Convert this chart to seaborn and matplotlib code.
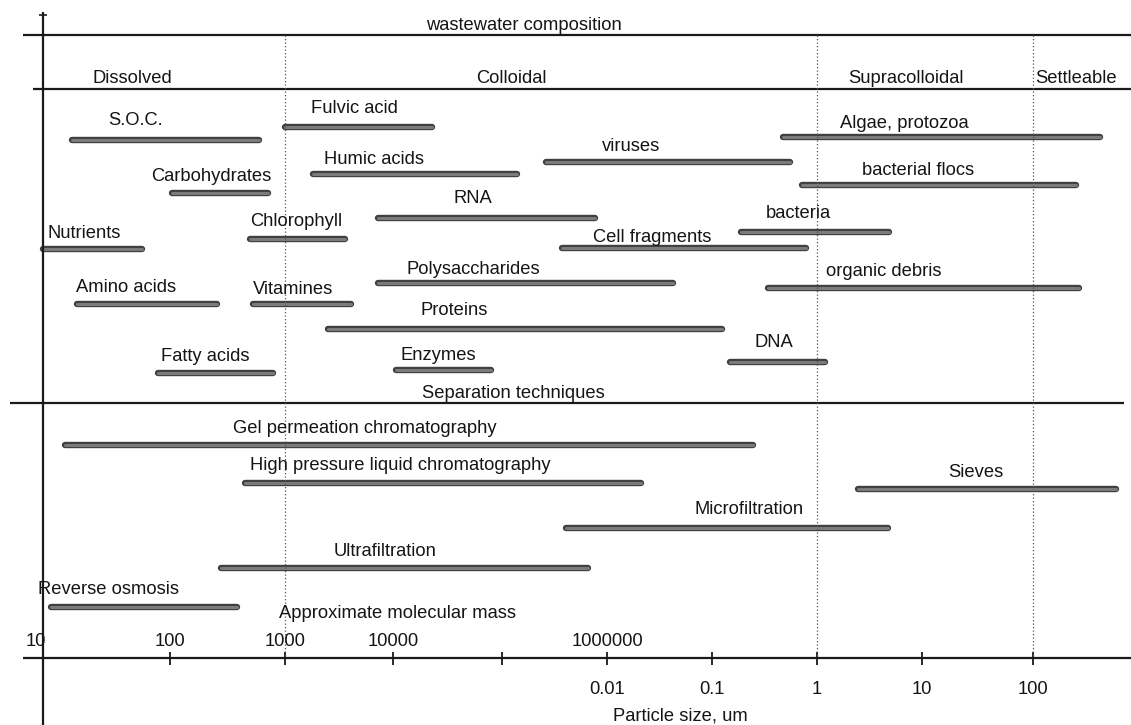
import numpy as np
import pandas as pd
import matplotlib
matplotlib.use("Agg")
import matplotlib.pyplot as plt
import matplotlib.patheffects as pe
import seaborn as sns

# ---------------------------------------------------------------- data
# Wastewater constituents: size range in micrometres
comp_names = ["S.O.C.", "Fulvic acid", "Algae, protozoa", "viruses", "Humic acids",
              "bacterial flocs", "Carbohydrates", "RNA", "bacteria", "Chlorophyll",
              "Nutrients", "Cell fragments", "Polysaccharides", "organic debris",
              "Amino acids", "Vitamines", "Proteins", "DNA", "Enzymes", "Fatty acids"]
comp_low = [1.7e-7, 1.0e-5, 0.47, 2.6e-3, 1.8e-5,
            0.72, 1.04e-6, 7.3e-5, 0.19, 5.0e-6,
            1.0e-7, 3.7e-3, 7.3e-5, 0.34,
            1.85e-7, 5.3e-6, 2.5e-5, 0.148, 1.07e-4, 8.0e-7]
comp_high = [6.0e-6, 2.3e-4, 400.0, 0.55, 1.4e-3,
             245.0, 7.1e-6, 7.7e-3, 4.85, 3.6e-5,
             6.0e-7, 0.79, 0.0425, 260.0,
             2.56e-6, 4.1e-5, 0.125, 1.19, 7.9e-4, 7.9e-6]

# Separation techniques: applicable size range in micrometres
sep_names = ["Gel permeation chromatography", "High pressure liquid chromatography",
             "Sieves", "Microfiltration", "Ultrafiltration", "Reverse osmosis"]
sep_low = [1.5e-7, 4.5e-6, 2.46, 4.1e-3, 2.8e-6, 1.16e-7]
sep_high = [0.245, 0.021, 560.0, 4.7, 6.6e-3, 3.8e-6]

# Axis tick labels
decades = [1e-7, 1e-6, 1e-5, 1e-4, 1e-3, 1e-2, 1e-1, 1.0, 10.0, 100.0]
mass_labels = ["10", "100", "1000", "10000", "", "1000000", "", "", "", ""]
size_labels = ["", "", "", "", "", "0.01", "0.1", "1", "10", "100"]

# Size classes
class_names = ["Dissolved", "Colloidal", "Supracolloidal", "Settleable"]
class_bounds = [1e-5, 1.0, 100.0]

# ---------------------------------------------------------------- layout
W, H = 1131, 725
# screen position of each decade along the size axis (the axis is not uniform)
DEC_LOG = np.log10(decades)
DEC_PX = np.array([43, 170, 285, 393, 502, 607, 712, 817, 922, 1033], float)

comp_rows = [140, 127, 137, 162, 174, 185, 193, 218, 232, 239,
             249, 248, 283, 288, 304, 304, 329, 362, 370, 373]
comp_label_off = [(-30, 20), (-4, 19), (-37, 14), (-37, 16), (-41, 15),
                  (-21, 15), (-9, 17), (-14, 20), (-17, 19), (-2, 18),
                  (-8, 16), (-32, 11), (-52, 14), (-40, 17),
                  (-21, 17), (-9, 15), (-71, 19), (-4, 20), (-5, 15), (-10, 17)]
sep_rows = [445, 483, 489, 528, 568, 607]
sep_label_off = [(-44, 17), (-43, 18), (-11, 17), (22, 18), (-20, 16), (-35, 17)]


def _interp_ext(v, xp, fp):
    v = np.asarray(v, float)
    out = np.interp(v, xp, fp)
    lo_slope = (fp[1] - fp[0]) / (xp[1] - xp[0])
    hi_slope = (fp[-1] - fp[-2]) / (xp[-1] - xp[-2])
    out = np.where(v < xp[0], fp[0] + (v - xp[0]) * lo_slope, out)
    out = np.where(v > xp[-1], fp[-1] + (v - xp[-1]) * hi_slope, out)
    return out


def fwd(x):
    x = np.asarray(x, float)
    return _interp_ext(np.log10(np.clip(x, 1e-300, None)), DEC_LOG, DEC_PX)


def inv(p):
    return 10 ** _interp_ext(p, DEC_PX, DEC_LOG)


# ---------------------------------------------------------------- style
sns.set_theme(style="white")
plt.rcParams["font.family"] = ["Liberation Sans", "DejaVu Sans"]
FS = 13.2
INK = "#151515"

fig = plt.figure(figsize=(W / 100, H / 100), dpi=100)
ax = fig.add_axes([0, 0, 1, 1])
ax.set_xscale("function", functions=(fwd, inv))
ax.set_xlim(inv(0), inv(W))
ax.set_ylim(H, 0)
ax.set_axis_off()

# ---------------------------------------------------------------- bars
records = []
for name, lo, hi, row in zip(comp_names + sep_names, comp_low + sep_low,
                             comp_high + sep_high, comp_rows + sep_rows):
    records.append({"item": name, "size": lo, "row": row})
    records.append({"item": name, "size": hi, "row": row})
bars = pd.DataFrame(records)

sns.lineplot(data=bars, x="size", y="row", units="item", estimator=None,
             sort=False, color="#7b7b7b", lw=2.2, solid_capstyle="round",
             legend=False, ax=ax,
             path_effects=[pe.Stroke(linewidth=4.6, foreground="#404040"),
                           pe.Normal()])

# labels above each bar
for names, lows, highs, rows, offs in [
        (comp_names, comp_low, comp_high, comp_rows, comp_label_off),
        (sep_names, sep_low, sep_high, sep_rows, sep_label_off)]:
    for name, lo, hi, row, (dx, dy) in zip(names, lows, highs, rows, offs):
        mid = inv((fwd(lo) + fwd(hi)) / 2)
        ax.annotate(name, xy=(mid, row), xytext=(dx, dy),
                    textcoords="offset pixels", ha="center", va="center",
                    fontsize=FS, color=INK)

# ---------------------------------------------------------------- frame
LINE = dict(color="#1a1a1a", lw=1.6)
ax.hlines(35, inv(23), inv(W), **LINE)
ax.hlines(89, inv(33), inv(W), **LINE)
ax.hlines(403, inv(10), inv(1124), **LINE)
ax.hlines(658, inv(23), inv(W), **LINE)
ax.vlines(decades[0], 12, H, **LINE)
ax.hlines(15, inv(39), inv(47), color="#1a1a1a", lw=1.2)

# decade ticks on the size axis
ax.vlines(decades, 652, 665, color="#1a1a1a", lw=1.3)

# size-class boundaries
ax.vlines(class_bounds, 35, 658, color="#555555", lw=0.9,
          linestyles=(0, (1.0, 1.8)))

# ---------------------------------------------------------------- texts
ax.text(inv(524), 25, "wastewater composition", ha="center", va="center",
        fontsize=FS, color=INK)
for name, xc in zip(class_names, [132, 511, 906, 1076]):
    ax.text(inv(xc), 78, name, ha="center", va="center", fontsize=FS, color=INK)
ax.text(inv(513), 393, "Separation techniques", ha="center", va="center",
        fontsize=FS, color=INK)
ax.text(inv(397), 614, "Approximate molecular mass", ha="center", va="center",
        fontsize=FS, color=INK)

for d, lab in zip(decades, mass_labels):
    if lab:
        shift = -7 if lab == "10" else 0
        ax.text(inv(fwd(d) + shift), 641, lab, ha="center", va="center",
                fontsize=FS, color=INK)
for d, lab in zip(decades, size_labels):
    if lab:
        ax.text(d, 690, lab, ha="center", va="center", fontsize=FS, color=INK)
ax.text(inv(680), 716, "Particle size, um", ha="center", va="center",
        fontsize=FS, color=INK)

fig.savefig("out.png", dpi=100, facecolor="white")
